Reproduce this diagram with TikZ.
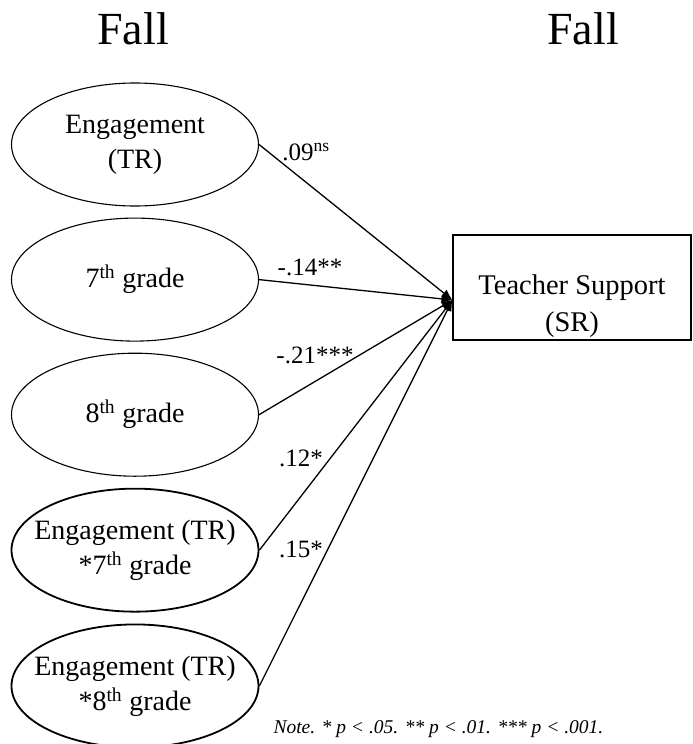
\documentclass[tikz,border=0pt]{standalone}
\usepackage{fontspec}
\setmainfont{Liberation Serif}
\usetikzlibrary{arrows.meta,positioning,shapes.geometric}

\begin{document}
\begin{tikzpicture}[x=1pt,y=-1pt,
  every node/.style={align=center},
  latent/.style={ellipse,draw,line width=1.1pt,minimum width=247pt,minimum height=123pt,inner xsep=-15pt,inner ysep=0pt,font=\fontsize{28}{35}\selectfont},
  inter/.style={latent,line width=1.8pt},
  outcome/.style={draw,line width=1.1pt,minimum width=238pt,minimum height=105pt},
  coef/.style={font=\fontsize{25}{30}\selectfont,inner sep=0pt},
  season/.style={font=\fontsize{46}{50}\selectfont},
  arrow/.style={-{Latex[length=11pt,width=9pt]},line width=1.3pt}
]
\useasboundingbox (0,0) rectangle (693,744);
\node[season] (fallleft) at (133,29) {Fall};
\node[season] (fallright) at (583,29) {Fall};
% predictors
\node[latent] (eng) at (135,144.5) {Engagement\\(TR)};
\node[latent,below=11pt of eng] (g7) {7\textsuperscript{th} grade};
\node[latent,below=11pt of g7] (g8) {8\textsuperscript{th} grade};
\node[inter,below=11pt of g8] (eng7) {Engagement (TR)\\*7\textsuperscript{th} grade};
\node[inter,below=11pt of eng7] (eng8) {Engagement (TR)\\*8\textsuperscript{th} grade};
% outcome
\node[outcome] (support) at (572,287.5) {};
\node[font=\fontsize{28.5}{37}\selectfont] (supportlabel) at ([yshift=-19pt]support.center) {Teacher Support\\(SR)};
\coordinate (tip) at ([yshift=-12.5pt]support.west);
\draw[arrow] (eng.east)--(tip);
\draw[arrow] (g7.east)--(tip);
\draw[arrow] (g8.east)--(tip);
\draw[arrow] (eng7.east)--(tip);
\draw[arrow] (eng8.east)--(tip);
\node[coef] (b1) at (306,152) {.09\textsuperscript{ns}};
\node[coef] (b2) at (310,267) {-.14**};
\node[coef] (b3) at (315,355) {-.21***};
\node[coef] (b4) at (301,458) {.12*};
\node[coef] (b5) at (301,549) {.15*};
\node[font=\fontsize{19.5}{24}\selectfont\itshape,anchor=base west] (note) at (270,733) {Note. * p < .05. ** p < .01. *** p < .001.};
\end{tikzpicture}
\end{document}
